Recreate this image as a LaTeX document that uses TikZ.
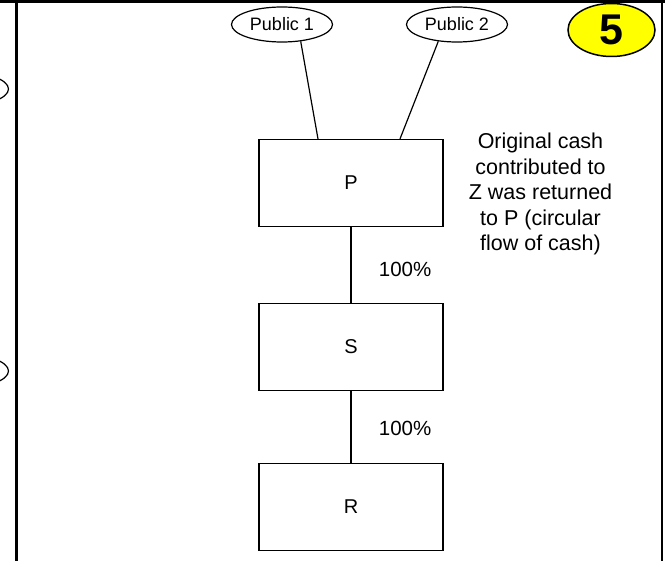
\documentclass[tikz,border=0pt]{standalone}
\usepackage{fontspec}
\setmainfont{Liberation Sans}
\usetikzlibrary{shapes.geometric}
\definecolor{badge_yellow}{HTML}{FFFF00}

\begin{document}
\begin{tikzpicture}[x=1pt,y=-1pt,
  entity/.style={draw, line width=1.2pt, minimum width=184pt, minimum height=87pt,
    font=\fontsize{20}{24}\selectfont},
  holder/.style={draw, ellipse, line width=1.2pt, minimum width=101pt, minimum height=35pt,
    inner sep=0pt, font=\fontsize{18}{22}\selectfont},
  pct/.style={font=\fontsize{20.5}{24}\selectfont},
  link/.style={line width=1.2pt},
  cell/.style={line width=2.5pt}]
  \clip (0,0) rectangle (665,561);

  % Cell borders
  \draw[cell] (0,1.5) -- (665,1.5);
  \draw[cell] (16.5,1.5) -- (16.5,561);
  \draw[cell] (662,1.5) -- (662,561);

  % Ellipses of the neighbouring cell (cut off)
  \node[holder] (left1) at (-42,89) {};
  \node[holder] (left2) at (-42,371) {};

  % Shareholders
  \node[holder] (pub1) at (282,24.5) {Public 1};
  \node[holder] (pub2) at (457,24.5) {Public 2};

  % Step badge
  \node[draw, ellipse, fill=badge_yellow, line width=1.5pt, minimum width=87pt,
    minimum height=53pt, inner sep=0pt, font=\fontsize{43}{43}\selectfont\bfseries]
    (badge) at (611.5,30) {5};

  % Entities
  \node[entity] (p) at (351,183) {P};
  \node[entity] (s) at (351,347) {S};
  \node[entity] (r) at (351,507) {R};

  % Ownership lines
  \draw[link] (pub1.318) -- ([xshift=-33pt]p.north);
  \draw[link] (pub2.222) -- ([xshift=49pt]p.north);
  \draw[link] (p.south) -- (s.north) node[pct, midway, right=24pt, yshift=-4pt] (pct1) {100\%};
  \draw[link] (s.south) -- (r.north) node[pct, midway, right=24pt, yshift=-1pt] (pct2) {100\%};

  % Note
  \node[align=center, font=\fontsize{21.5}{25.5}\selectfont] (note) at (540.5,194)
    {Original cash\\contributed to\\Z was returned\\to P (circular\\flow of cash)};
\end{tikzpicture}
\end{document}
